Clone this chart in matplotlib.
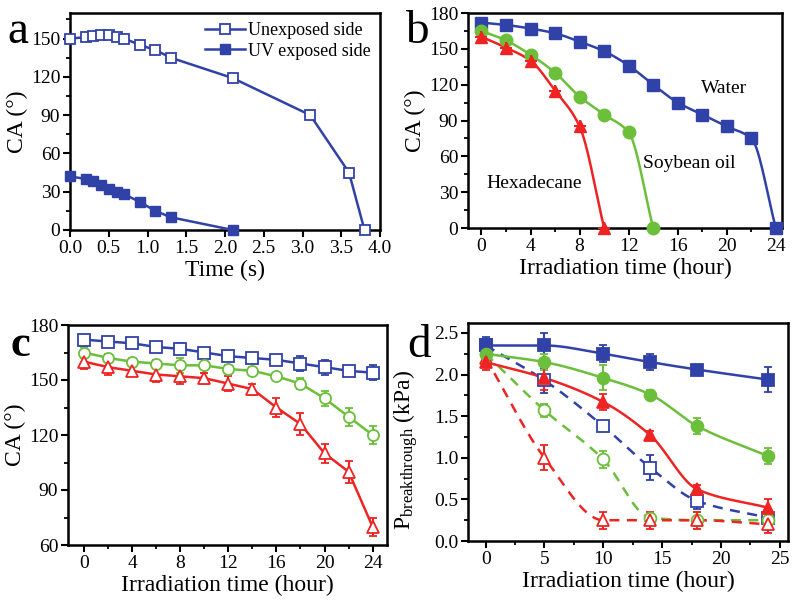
# ---------- imports ----------
import numpy as np
import matplotlib
matplotlib.use("Agg")
import matplotlib.pyplot as plt
from matplotlib.ticker import MultipleLocator

plt.rcParams['font.family'] = ['Liberation Serif', 'DejaVu Serif']
plt.rcParams['mathtext.fontset'] = 'custom'
plt.rcParams['mathtext.rm'] = 'Liberation Serif'
plt.rcParams['mathtext.it'] = 'Liberation Serif:italic'

BLUE = '#3042a8'
GREEN = '#6cbf3a'
RED = '#ee2424'

# ---------- data ----------
# panel a
t_unexp = [0, 0.2, 0.3, 0.4, 0.5, 0.6, 0.7, 0.9, 1.1, 1.3, 2.1, 3.1, 3.6, 3.8]
ca_unexp = [150, 151, 152, 153, 153, 151, 150, 145, 141, 135, 119, 90, 45, 0]
t_uv = [0, 0.2, 0.3, 0.4, 0.5, 0.6, 0.7, 0.9, 1.1, 1.3, 2.1]
ca_uv = [42, 40, 38, 35, 32, 30, 28, 22, 15, 10, 0]

# panel b
hb_water = [0, 2, 4, 6, 8, 10, 12, 14, 16, 18, 20, 22, 24]
ca_water = [172, 170, 167, 163, 156, 148, 136, 120, 105, 95, 85, 75, 0]
hb_soy = [0, 2, 4, 6, 8, 10, 12, 14]
ca_soy = [165, 157, 145, 130, 110, 95, 80, 0]
hb_hex = [0, 2, 4, 6, 8, 10]
ca_hex = [160, 151, 140, 115, 85, 0]

# panel c
hc = [0, 2, 4, 6, 8, 10, 12, 14, 16, 18, 20, 22, 24]
c_water = [172, 171, 170, 168, 167, 165, 163, 162, 161, 159, 157, 155, 154]
c_water_err = [2, 2, 2, 2, 3, 2, 2, 2, 2, 4, 4, 2, 4]
c_soy = [165, 162, 160, 159, 158, 158, 156, 155, 152, 148, 140, 130, 120]
c_soy_err = [3, 2, 2, 2, 4, 4, 2, 2, 2, 3, 4, 5, 5]
c_hex = [160, 157, 155, 153, 152, 151, 148, 145, 135, 126, 110, 100, 70]
c_hex_err = [4, 4, 3, 4, 4, 3, 4, 3, 5, 6, 5, 6, 5]

# panel d
hd = [0, 5, 10, 14, 18, 24]
d_w_uv = [2.35, 2.35, 2.25, 2.15, 2.06, 1.94]
d_w_uv_err = [0.05, 0.15, 0.10, 0.10, 0.03, 0.15]
d_s_uv = [2.25, 2.15, 1.96, 1.76, 1.38, 1.02]
d_s_uv_err = [0.10, 0.10, 0.15, 0.05, 0.10, 0.10]
d_h_uv = [2.15, 1.96, 1.67, 1.27, 0.62, 0.40]
d_h_uv_err = [0.10, 0.15, 0.10, 0.05, 0.05, 0.10]
d_w_un = [2.35, 1.93, 1.38, 0.88, 0.48, 0.28]
d_w_un_err = [0.10, 0.15, 0.05, 0.15, 0.10, 0.10]
d_s_un = [2.25, 1.57, 0.98, 0.28, 0.25, 0.25]
d_s_un_err = [0.15, 0.08, 0.10, 0.05, 0.10, 0.05]
d_h_un = [2.20, 1.00, 0.25, 0.25, 0.25, 0.20]
d_h_un_err = [0.10, 0.15, 0.10, 0.10, 0.10, 0.10]


# ---------- helpers ----------
def pchip(x, y, n=200):
    # monotone cubic through the points, just for drawing a smooth line
    x = np.asarray(x, float)
    y = np.asarray(y, float)
    h = np.diff(x)
    d = np.diff(y) / h
    m = np.zeros_like(y)
    for k in range(1, len(x) - 1):
        if d[k - 1] * d[k] > 0:
            w1 = 2 * h[k] + h[k - 1]
            w2 = h[k] + 2 * h[k - 1]
            m[k] = (w1 + w2) / (w1 / d[k - 1] + w2 / d[k])
    m[0] = d[0]
    m[-1] = d[-1]
    xs = np.linspace(x[0], x[-1], n)
    idx = np.clip(np.searchsorted(x, xs) - 1, 0, len(x) - 2)
    t = (xs - x[idx]) / h[idx]
    h00 = 2 * t**3 - 3 * t**2 + 1
    h10 = t**3 - 2 * t**2 + t
    h01 = -2 * t**3 + 3 * t**2
    h11 = t**3 - t**2
    ys = h00 * y[idx] + h10 * h[idx] * m[idx] + h01 * y[idx + 1] + h11 * h[idx] * m[idx + 1]
    return xs, ys


def style(ax):
    for s in ax.spines.values():
        s.set_linewidth(1.8)
    ax.tick_params(which='major', direction='out', length=5, width=1.5, labelsize=14, pad=2)
    ax.tick_params(which='minor', direction='out', length=3, width=1.3)


W, H = 797, 603
fig = plt.figure(figsize=(W / 100, H / 100), dpi=100)


def box(l, t, r, b):
    return fig.add_axes([l / W, 1 - b / H, (r - l) / W, (b - t) / H])


# ---------- panel a ----------
ax = box(70, 13, 380, 230)
ax.plot(t_unexp, ca_unexp, '-s', color=BLUE, mfc='white', mec=BLUE, ms=7, lw=1.8,
        mew=1.3, clip_on=False, label='Unexposed side', zorder=3)
ax.plot(t_uv, ca_uv, '-s', color=BLUE, ms=7, lw=1.8, clip_on=False,
        label='UV exposed side', zorder=3)
ax.set_xlim(0, 4)
ax.set_ylim(0, 170)
ax.set_xticks(np.arange(0, 4.01, 0.5))
ax.set_xticklabels([f'{v:.1f}' for v in np.arange(0, 4.01, 0.5)])
ax.yaxis.set_major_locator(MultipleLocator(30))
ax.yaxis.set_minor_locator(MultipleLocator(15))
ax.set_xlabel('Time (s)', fontsize=17, labelpad=2)
ax.set_ylabel('CA (°)', fontsize=17, labelpad=2)
ax.legend(loc='upper right', frameon=False, fontsize=13, handlelength=2.2,
          handletextpad=0.2, borderaxespad=0.1, labelspacing=0.2)
style(ax)

# ---------- panel b ----------
ax = box(468, 13, 782, 228)
for hx, cy, col, mk in [(hb_water, ca_water, BLUE, 's'),
                        (hb_soy, ca_soy, GREEN, 'o'),
                        (hb_hex, ca_hex, RED, '^')]:
    xs, ys = pchip(hx, cy)
    ax.plot(xs, ys, '-', color=col, lw=1.8, zorder=2)
    ax.plot(hx, cy, mk, color=col, ms=9, clip_on=False, zorder=3)
ax.plot(hb_hex, ca_hex, '+', color=RED, ms=9, mew=1.5, clip_on=False, zorder=4)
ax.set_xlim(-1.1, 24.5)
ax.set_ylim(0, 180)
ax.xaxis.set_major_locator(MultipleLocator(4))
ax.xaxis.set_minor_locator(MultipleLocator(2))
ax.yaxis.set_major_locator(MultipleLocator(30))
ax.yaxis.set_minor_locator(MultipleLocator(15))
ax.text(19.8, 117, 'Water', fontsize=14, ha='center', va='center')
ax.text(16.9, 54, 'Soybean oil', fontsize=14, ha='center', va='center')
ax.text(4.3, 37, 'Hexadecane', fontsize=14, ha='center', va='center')
ax.set_xlabel('Irradiation time (hour)', fontsize=17, labelpad=2)
ax.set_ylabel('CA (°)', fontsize=17, labelpad=2)
style(ax)

# ---------- panel c ----------
ax = box(68, 325, 387, 545)
for cy, ce, col, mk in [(c_water, c_water_err, BLUE, 's'),
                        (c_soy, c_soy_err, GREEN, 'o'),
                        (c_hex, c_hex_err, RED, '^')]:
    ax.errorbar(hc, cy, yerr=ce, fmt='-' + mk, color=col, mfc='white', mec=col,
                ms=8, mew=1.3, lw=1.8, elinewidth=1.5, capsize=3, capthick=1.5,
                clip_on=False, zorder=3)
ax.set_xlim(-1.35, 25.2)
ax.set_ylim(60, 180)
ax.xaxis.set_major_locator(MultipleLocator(4))
ax.xaxis.set_minor_locator(MultipleLocator(2))
ax.yaxis.set_major_locator(MultipleLocator(30))
ax.yaxis.set_minor_locator(MultipleLocator(15))
ax.set_xlabel('Irradiation time (hour)', fontsize=17, labelpad=2)
ax.set_ylabel('CA (°)', fontsize=17, labelpad=2)
style(ax)

# ---------- panel d ----------
ax = box(468, 323, 788, 541)
series_d = [(d_w_un, d_w_un_err, BLUE, 's', 'white', '--'),
            (d_s_un, d_s_un_err, GREEN, 'o', 'white', '--'),
            (d_h_un, d_h_un_err, RED, '^', 'white', '--'),
            (d_w_uv, d_w_uv_err, BLUE, 's', BLUE, '-'),
            (d_s_uv, d_s_uv_err, GREEN, 'o', GREEN, '-'),
            (d_h_uv, d_h_uv_err, RED, '^', RED, '-')]
for py, pe, col, mk, fc, ls in series_d:
    xs, ys = pchip(hd, py)
    ax.plot(xs, ys, ls, color=col, lw=1.8, dashes=(4, 3) if ls == '--' else (None, None),
            zorder=2)
    ax.errorbar(hd, py, yerr=pe, fmt=mk, color=col, mfc=fc, mec=col, ms=8.5, mew=1.3,
                elinewidth=1.5, capsize=3, capthick=1.5, clip_on=False, zorder=3)
ax.set_xlim(-1.5, 25.7)
ax.set_ylim(0, 2.62)
ax.xaxis.set_major_locator(MultipleLocator(5))
ax.xaxis.set_minor_locator(MultipleLocator(2.5))
ax.yaxis.set_major_locator(MultipleLocator(0.5))
ax.yaxis.set_minor_locator(MultipleLocator(0.25))
ax.yaxis.set_major_formatter(plt.FuncFormatter(lambda v, p: f'{v:.1f}'))
ax.set_xlabel('Irradiation time (hour)', fontsize=17, labelpad=2)
ax.set_ylabel(r'$\mathrm{P_{breakthrough}}$ (kPa)', fontsize=17)
ax.yaxis.set_label_coords(-0.15, 0.42)
style(ax)

# ---------- panel letters ----------
for lx, ly, s, wt, fs in [(18, 43, 'a', 'normal', 34), (417, 43, 'b', 'normal', 34),
                          (20, 356, 'c', 'bold', 32), (419, 357, 'd', 'normal', 34)]:
    fig.text(lx / W, 1 - ly / H, s, fontsize=fs, fontweight=wt,
             ha='center', va='baseline')

fig.savefig('out.png', dpi=100)
